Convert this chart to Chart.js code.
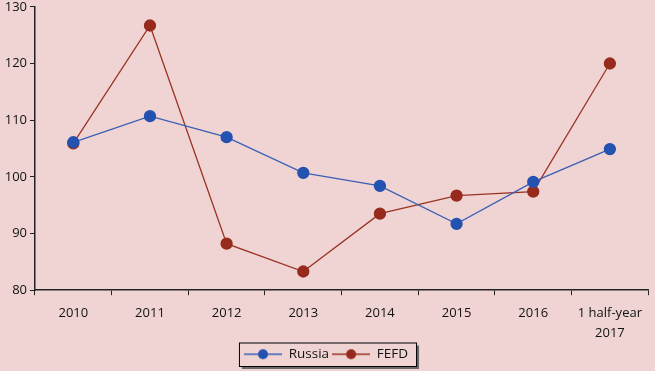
<!DOCTYPE html>
<html>
<head>
<meta charset="utf-8">
<script src="https://cdn.jsdelivr.net/npm/chart.js@4/dist/chart.umd.min.js"></script>
<style>
  html, body { margin: 0; padding: 0; background: #f0d4d4; }
  #wrap { width: 655px; height: 371px; position: relative; }
</style>
</head>
<body>
<div id="wrap"><canvas id="chart"></canvas></div>
<script>
// chart data
const categories = ['2010', '2011', '2012', '2013', '2014', '2015', '2016', ['1 half-year', '2017']];
const russiaValues = [106.1, 110.7, 107.0, 100.7, 98.4, 91.7, 99.1, 104.9];
const fefdValues = [105.9, 126.7, 88.2, 83.3, 93.5, 96.7, 97.4, 120.0];
const yTicks = [80, 90, 100, 110, 120, 130];

const russiaColor = '#2452b0';
const russiaLine = '#3a5fb5';
const fefdColor = '#962a1c';
const fefdLine = '#9a3324';

// small line + dot icon for the legend
function legendIcon(lineColor, dotColor) {
  const c = document.createElement('canvas');
  c.width = 38; c.height = 14;
  const ctx = c.getContext('2d');
  ctx.strokeStyle = lineColor;
  ctx.lineWidth = 1.5;
  ctx.beginPath();
  ctx.moveTo(0, 7); ctx.lineTo(38, 7);
  ctx.stroke();
  ctx.fillStyle = dotColor;
  ctx.beginPath();
  ctx.arc(19, 7, 5, 0, Math.PI * 2);
  ctx.fill();
  return c;
}

// frame around the legend like the original
const legendBox = {
  id: 'legendBox',
  afterDraw(chart) {
    const lg = chart.legend;
    const ctx = chart.ctx;
    const first = lg.legendHitBoxes[0];
    const last = lg.legendHitBoxes[lg.legendHitBoxes.length - 1];
    const x = first.left - 5;
    const y = first.top - 5;
    const w = last.left + last.width - x + 8;
    const h = first.height + 10;
    ctx.save();
    ctx.fillStyle = '#6a6a6a';
    ctx.fillRect(x + 3, y + 3, w, h);
    ctx.fillStyle = '#f0d4d4';
    ctx.fillRect(x, y, w, h);
    ctx.strokeStyle = '#000';
    ctx.lineWidth = 1;
    ctx.strokeRect(x + 0.5, y + 0.5, w, h);
    ctx.restore();
    lg.draw();
  }
};

new Chart(document.getElementById('chart'), {
  type: 'line',
  data: {
    labels: categories,
    datasets: [{
      label: 'Russia',
      data: russiaValues,
      borderColor: russiaLine,
      backgroundColor: russiaColor,
      pointBackgroundColor: russiaColor,
      pointBorderColor: russiaColor,
      pointRadius: 5.5,
      borderWidth: 1.3
    }, {
      label: 'FEFD',
      data: fefdValues,
      borderColor: fefdLine,
      backgroundColor: fefdColor,
      pointBackgroundColor: fefdColor,
      pointBorderColor: fefdColor,
      pointRadius: 5.5,
      borderWidth: 1.3
    }]
  },
  plugins: [legendBox],
  options: {
    responsive: true,
    maintainAspectRatio: false,
    animation: false,
    layout: { padding: { top: 5, right: 3, bottom: 0, left: 0 } },
    elements: { line: { tension: 0 } },
    plugins: {
      legend: {
        position: 'bottom',
        labels: {
          usePointStyle: true,
          pointStyleWidth: 38,
          boxHeight: 13,
          color: '#111',
          font: { family: 'Open Sans', size: 13.5 },
          padding: 3,
          generateLabels(chart) {
            return chart.data.datasets.map((ds, i) => ({
              text: ds.label,
              pointStyle: legendIcon(ds.borderColor, ds.pointBackgroundColor),
              fontColor: '#111',
              datasetIndex: i,
              lineWidth: 0
            }));
          }
        }
      },
      tooltip: { enabled: false }
    },
    scales: {
      x: {
        offset: true,
        afterFit(axis) { axis.height -= 7; },
        grid: { offset: true, drawOnChartArea: false, color: '#222', tickLength: 5 },
        border: { color: '#222', width: 1.5 },
        ticks: { color: '#111', font: { family: 'Open Sans', size: 13, lineHeight: 1.55 }, maxRotation: 0, padding: 8 }
      },
      y: {
        min: 80,
        max: 130,
        afterBuildTicks(axis) { axis.ticks = yTicks.map(v => ({ value: v })); },
        afterFit(axis) { axis.width = 35; axis.paddingTop = 0; axis.paddingBottom = 0; },
        grid: { drawOnChartArea: false, color: '#222', tickLength: 5 },
        border: { color: '#222', width: 1.5 },
        ticks: { color: '#111', font: { family: 'Open Sans', size: 13 }, padding: 3 }
      }
    }
  }
});
</script>
</body>
</html>
